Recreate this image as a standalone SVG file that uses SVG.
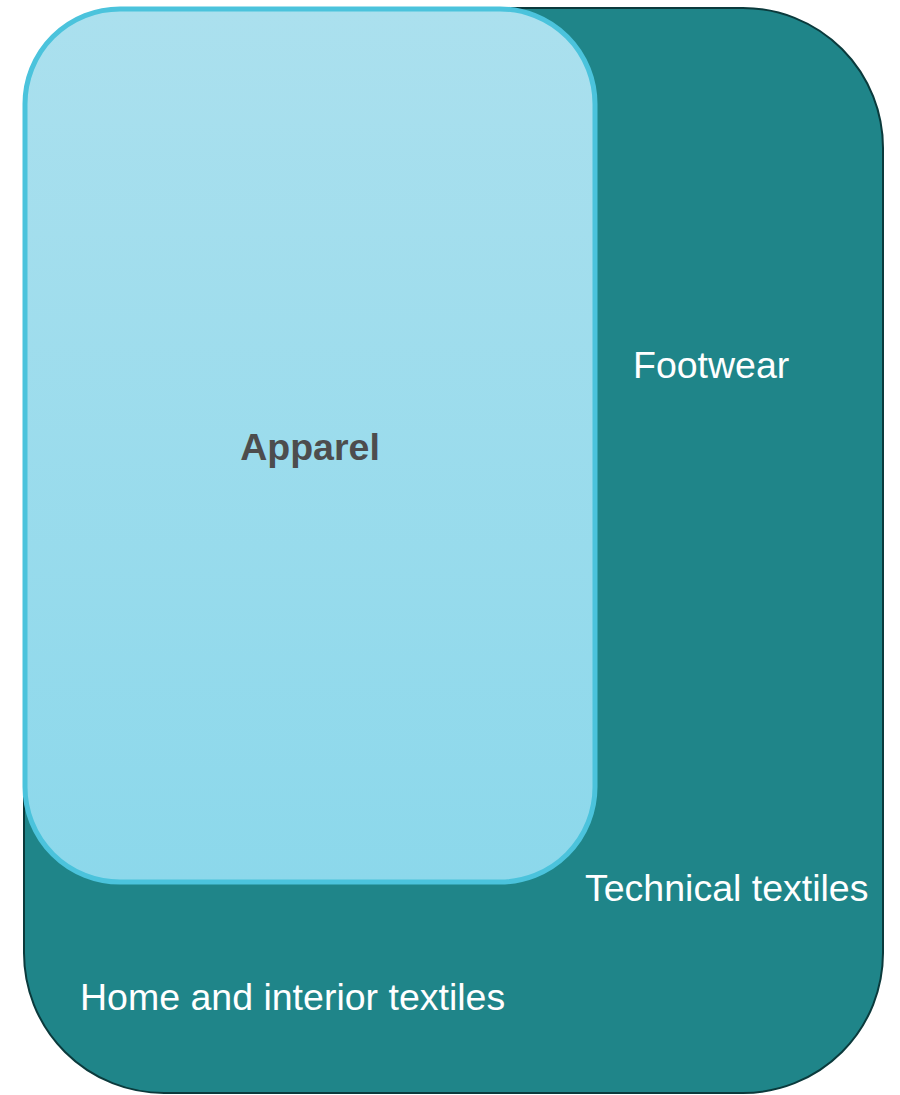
<svg xmlns="http://www.w3.org/2000/svg" width="900" height="1095" viewBox="0 0 900 1095">
<defs>
<linearGradient id="g" x1="0" y1="0" x2="0" y2="1">
<stop offset="0" stop-color="#abe0ee"/>
<stop offset="1" stop-color="#8cd8eb"/>
</linearGradient>
<style>
.lbl{font-family:"Liberation Sans",Arial,sans-serif;font-size:37.5px;fill:#ffffff}
.main{font-family:"Liberation Sans",Arial,sans-serif;font-size:37.5px;font-weight:bold;fill:#4d4d4d}
</style>
</defs>
<rect width="900" height="1095" fill="#ffffff"/>
<g id="outer">
<rect x="24" y="8" width="859" height="1085" rx="140" ry="140" fill="#1f8589" stroke="#0b3a3c" stroke-width="2"/>
<text class="lbl" x="633" y="378">Footwear</text>
<text class="lbl" x="585" y="901">Technical textiles</text>
<text class="lbl" x="80" y="1010">Home and interior textiles</text>
</g>
<g id="apparel">
<rect x="25" y="9" width="570" height="873" rx="95" ry="95" fill="url(#g)" stroke="#4bc3dc" stroke-width="5"/>
<text class="main" x="310" y="460" text-anchor="middle">Apparel</text>
</g>
<g id="connectors"/>
</svg>
